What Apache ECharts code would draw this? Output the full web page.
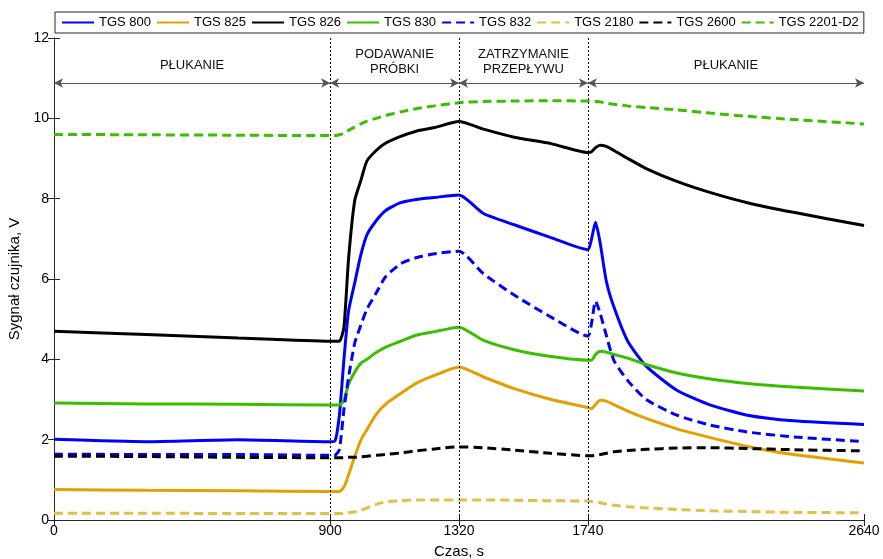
<!DOCTYPE html>
<html>
<head>
<meta charset="utf-8">
<script src="https://cdn.jsdelivr.net/npm/echarts@6/dist/echarts.min.js"></script>
<style>
  html, body { margin: 0; padding: 0; background: #fff; }
  #chart { width: 883px; height: 559px; }
</style>
</head>
<body>
<div id="chart"></div>
<script>
// Sample times, s
const timeS = [0, 300, 600, 900, 915, 930, 945, 960, 980, 1000, 1020, 1050, 1080, 1130, 1180, 1240, 1320,
  1400, 1500, 1620, 1740, 1752, 1765, 1780, 1800, 1825, 1870, 1930, 2030, 2140, 2260, 2410, 2640];

// Sensor signals, V
const tgs800 = [2.01, 1.95, 2.00, 1.95, 1.96, 2.6, 4.0, 5.2, 5.9, 6.6, 7.1, 7.45, 7.7, 7.9, 7.98, 8.03, 8.09,
  7.63, 7.35, 7.03, 6.73, 7.0, 7.41, 6.9, 5.95, 5.3, 4.45, 3.83, 3.23, 2.86, 2.61, 2.47, 2.38];
const tgs825 = [0.76, 0.74, 0.73, 0.71, 0.71, 0.71, 0.82, 1.12, 1.58, 1.99, 2.25, 2.63, 2.88, 3.15, 3.4, 3.6, 3.81,
  3.56, 3.27, 3.0, 2.8, 2.77, 2.88, 2.98, 2.96, 2.87, 2.71, 2.53, 2.27, 2.05, 1.83, 1.63, 1.42];
const tgs826 = [4.70, 4.62, 4.53, 4.45, 4.45, 4.45, 4.8, 6.5, 7.95, 8.45, 8.94, 9.2, 9.38, 9.55, 9.68, 9.77, 9.92,
  9.73, 9.53, 9.37, 9.15, 9.17, 9.27, 9.33, 9.3, 9.2, 9.0, 8.75, 8.43, 8.15, 7.9, 7.66, 7.33];
const tgs830 = [2.91, 2.89, 2.88, 2.86, 2.86, 2.86, 2.98, 3.38, 3.68, 3.9, 4.0, 4.17, 4.3, 4.45, 4.6, 4.69, 4.8,
  4.47, 4.24, 4.07, 3.98, 3.98, 4.12, 4.2, 4.18, 4.12, 4.03, 3.87, 3.66, 3.51, 3.4, 3.31, 3.21];
const tgs832 = [1.64, 1.63, 1.63, 1.61, 1.61, 1.75, 2.75, 3.55, 4.4, 4.85, 5.25, 5.65, 6.05, 6.38, 6.53, 6.63, 6.69,
  6.13, 5.6, 5.05, 4.58, 4.9, 5.45, 5.15, 4.6, 3.97, 3.47, 3.0, 2.61, 2.36, 2.19, 2.07, 1.95];
const tgs2180 = [0.17, 0.17, 0.16, 0.16, 0.16, 0.16, 0.17, 0.18, 0.2, 0.24, 0.3, 0.39, 0.45, 0.48, 0.5, 0.5, 0.5,
  0.5, 0.49, 0.48, 0.47, 0.46, 0.45, 0.43, 0.4, 0.37, 0.33, 0.3, 0.26, 0.23, 0.21, 0.19, 0.18];
const tgs2600 = [1.59, 1.58, 1.56, 1.55, 1.55, 1.55, 1.55, 1.56, 1.56, 1.57, 1.59, 1.61, 1.63, 1.67, 1.72, 1.77, 1.82,
  1.8, 1.74, 1.66, 1.6, 1.6, 1.61, 1.63, 1.66, 1.7, 1.73, 1.76, 1.79, 1.8, 1.78, 1.75, 1.72];
const tgs2201 = [9.6, 9.59, 9.58, 9.57, 9.57, 9.59, 9.63, 9.7, 9.78, 9.86, 9.93, 10.0, 10.07, 10.16, 10.24, 10.31, 10.39,
  10.42, 10.43, 10.44, 10.43, 10.43, 10.42, 10.41, 10.38, 10.35, 10.31, 10.27, 10.21, 10.13, 10.05, 9.97, 9.86];

// Measurement phases
const phaseBounds = [0, 900, 1320, 1740, 2640];
const phaseLabels = ['PŁUKANIE', 'PODAWANIE\nPRÓBKI', 'ZATRZYMANIE\nPRZEPŁYWU', 'PŁUKANIE'];
const phaseArrowLevel = 10.88;

const xTickValues = [0, 900, 1320, 1740, 2640];

const FONT = "'Liberation Sans', Arial, sans-serif";

const traces = [
  { name: 'TGS 800', values: tgs800, color: '#0000FF', dash: 'solid' },
  { name: 'TGS 825', values: tgs825, color: '#E69F00', dash: 'solid' },
  { name: 'TGS 826', values: tgs826, color: '#000000', dash: 'solid' },
  { name: 'TGS 830', values: tgs830, color: '#3CBE00', dash: 'solid' },
  { name: 'TGS 832', values: tgs832, color: '#0000FF', dash: [9, 5] },
  { name: 'TGS 2180', values: tgs2180, color: '#E3BF45', dash: [9, 5] },
  { name: 'TGS 2600', values: tgs2600, color: '#000000', dash: [9, 5] },
  { name: 'TGS 2201-D2', values: tgs2201, color: '#3CBE00', dash: [9, 5] }
];

const series = traces.map(tr => ({
  name: tr.name,
  type: 'line',
  data: timeS.map((t, i) => [t, tr.values[i]]),
  showSymbol: false,
  symbol: 'none',
  smooth: 0.2,
  animation: false,
  color: tr.color,
  lineStyle: { color: tr.color, width: 3, type: tr.dash }
}));

// Dotted separators between phases
series.push({
  name: 'separators',
  type: 'line',
  data: [],
  animation: false,
  markLine: {
    silent: true,
    animation: false,
    symbol: 'none',
    label: { show: false },
    lineStyle: { color: '#000', width: 1, type: [2, 2] },
    data: phaseBounds.slice(1, -1).map(b => ({ xAxis: b }))
  }
});

// Double-headed arrows with phase names
series.push({
  name: 'phases',
  type: 'line',
  data: [],
  animation: false,
  markLine: {
    silent: true,
    animation: false,
    symbol: ['arrow', 'arrow'],
    symbolSize: [7, 9],
    itemStyle: { color: '#111' },
    lineStyle: { color: '#555', width: 1, type: 'solid' },
    data: phaseLabels.map((lab, i) => {
      const twoLine = lab.indexOf('\n') >= 0;
      return [
        {
          coord: [phaseBounds[i], phaseArrowLevel],
          label: {
            show: true,
            formatter: lab,
            position: 'insideMiddleTop',
            distance: twoLine ? 6 : 10,
            color: '#111',
            fontFamily: FONT,
            fontSize: 13,
            lineHeight: 15,
            align: 'center'
          }
        },
        { coord: [phaseBounds[i + 1], phaseArrowLevel] }
      ];
    })
  }
});

const frameColor = '#262626';

const option = {
  animation: false,
  backgroundColor: '#fff',
  textStyle: { fontFamily: FONT },
  legend: {
    data: traces.map(t => t.name),
    left: 55,
    top: 12,
    orient: 'horizontal',
    itemWidth: 32,
    itemHeight: 14,
    itemGap: 5,
    padding: [4, 5, 4, 6],
    borderColor: frameColor,
    borderWidth: 1,
    backgroundColor: '#fff',
    itemStyle: { opacity: 0 },
    textStyle: { fontFamily: FONT, fontSize: 13, color: '#000' }
  },
  grid: { left: 54, right: 19, top: 38, bottom: 39, containLabel: false, outerBoundsMode: 'none' },
  xAxis: [
    {
      type: 'value',
      min: 0,
      max: 2640,
      position: 'bottom',
      name: 'Czas, s',
      nameLocation: 'middle',
      nameGap: 24,
      nameTextStyle: { fontFamily: FONT, fontSize: 15, color: '#000' },
      axisLine: { show: true, lineStyle: { color: frameColor, width: 1 } },
      axisTick: { show: true, inside: true, length: 6, customValues: xTickValues, lineStyle: { color: frameColor } },
      axisLabel: {
        show: true, customValues: xTickValues, margin: 4, fontFamily: FONT, fontSize: 14, color: '#000',
        formatter: v => String(v)
      },
      splitLine: { show: false }
    },
    {
      type: 'value',
      min: 0,
      max: 2640,
      position: 'top',
      axisLine: { show: true, lineStyle: { color: frameColor, width: 1 } },
      axisTick: { show: true, inside: true, length: 6, customValues: xTickValues, lineStyle: { color: frameColor } },
      axisLabel: { show: false },
      splitLine: { show: false }
    }
  ],
  yAxis: [
    {
      type: 'value',
      min: 0,
      max: 12,
      interval: 2,
      position: 'left',
      name: 'Sygnał czujnika, V',
      nameLocation: 'middle',
      nameGap: 24,
      nameTextStyle: { fontFamily: FONT, fontSize: 15, color: '#000' },
      axisLine: { show: true, lineStyle: { color: frameColor, width: 1 } },
      axisTick: { show: true, inside: true, length: 6, lineStyle: { color: frameColor } },
      axisLabel: { margin: 5, fontFamily: FONT, fontSize: 14, color: '#000' },
      splitLine: { show: false }
    },
    {
      type: 'value',
      min: 0,
      max: 12,
      interval: 2,
      position: 'right',
      axisLine: { show: true, lineStyle: { color: frameColor, width: 1 } },
      axisTick: { show: true, inside: true, length: 6, lineStyle: { color: frameColor } },
      axisLabel: { show: false },
      splitLine: { show: false }
    }
  ],
  series: series
};

const chart = echarts.init(document.getElementById('chart'), null, { renderer: 'canvas' });
chart.setOption(option);
</script>
</body>
</html>
